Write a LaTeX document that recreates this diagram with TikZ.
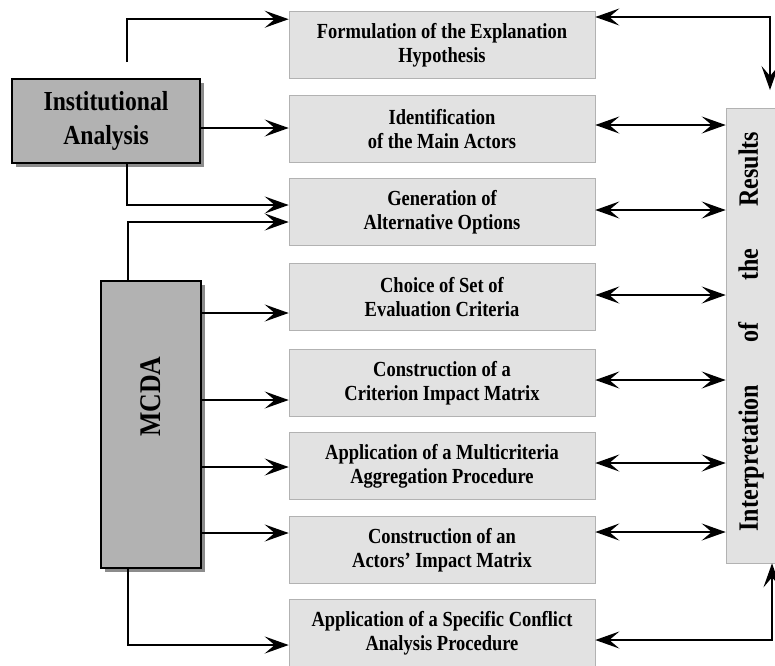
\documentclass[tikz,border=0pt]{standalone}
\usepackage{fontspec}
\setmainfont{Liberation Serif}
\newfontfamily\narrowfont[FakeStretch=0.86]{Liberation Serif}
\usepackage{graphicx}
\usepackage{tikz}
\usetikzlibrary{arrows.meta,shadows}
\newcommand{\unitsize}{1pt}
\definecolor{stepfill}{RGB}{226,226,226}
\definecolor{mainfill}{RGB}{178,178,178}

\begin{document}
\begin{tikzpicture}[x=\unitsize,y=-\unitsize,
	>={Stealth[length=24pt,width=17pt,inset=10pt]},
	stepbox/.style={draw=gray!60, line width=0.6pt, fill=stepfill, minimum width=306pt, minimum height=67pt, inner sep=0pt, align=center, font=\narrowfont\fontsize{21.5}{24}\selectfont\bfseries},
	mainbox/.style={draw=black, line width=1.4pt, fill=mainfill, inner sep=0pt, align=center, general shadow={fill=black!45, shadow xshift=4pt, shadow yshift=-4pt}},
	link/.style={line width=1.6pt}]
	\useasboundingbox (0,0) rectangle (775,665);

	\node[stepbox] (formulation) at (442,45) {Formulation of the Explanation\\Hypothesis};
	\node[stepbox] (actors) at (442,129) {Identification\\of the Main Actors};
	\node[stepbox] (options) at (442,212) {Generation of\\Alternative Options};
	\node[stepbox] (criteria) at (442,297) {Choice of Set of\\Evaluation Criteria};
	\node[stepbox] (critmatrix) at (442,383) {Construction of a\\Criterion Impact Matrix};
	\node[stepbox] (aggregation) at (442,466) {Application of a Multicriteria\\Aggregation Procedure};
	\node[stepbox] (actmatrix) at (442,550) {Construction of an\\Actors’ Impact Matrix};
	\node[stepbox] (conflict) at (442,633) {Application of a Specific Conflict\\Analysis Procedure};

	\node[mainbox, minimum width=188pt, minimum height=84pt, font=\narrowfont\fontsize{27.5}{34}\selectfont\bfseries] (inst) at (106,121) {Institutional\\Analysis};
	\node[mainbox, minimum width=100pt, minimum height=287pt, font=\narrowfont\fontsize{30}{30}\selectfont\bfseries] (mcda) at (151,424.5) {\rotatebox{90}{\hspace{56pt}MCDA}};
	\node[draw=gray!60, line width=0.6pt, fill=stepfill, minimum width=50pt, minimum height=455pt, inner sep=0pt, font=\narrowfont\fontsize{28}{30}\selectfont\bfseries] (interp) at (751,335.5) {\rotatebox{90}{\hspace{8pt}Interpretation\hspace{1.5em}of\hspace{1.5em}the\hspace{1.5em}Results}};

	\coordinate (insttop) at (127,62);
	\coordinate (interptop) at (770,90);

	\draw[link,->] (insttop) |- ([yshift=-8pt]formulation.north west);
	\draw[link,->] (inst.east |- 0,128) -- (actors.west |- 0,128);
	\draw[link,->] (inst.south -| 127,0) |- (options.west |- 0,205);
	\draw[link,->] (mcda.north -| 128,0) |- (options.west |- 0,222);
	\draw[link,->] (mcda.east |- 0,313) -- (criteria.west |- 0,313);
	\draw[link,->] (mcda.east |- 0,400) -- (critmatrix.west |- 0,400);
	\draw[link,->] (mcda.east |- 0,467) -- (aggregation.west |- 0,467);
	\draw[link,->] (mcda.east |- 0,533) -- (actmatrix.west |- 0,533);
	\draw[link,->] (mcda.south -| 128,0) |- (conflict.west |- 0,645);

	\draw[link,<->] (formulation.east |- 0,17) -| (interptop);
	\draw[link,<->] (actors.east |- 0,125) -- (interp.west |- 0,125);
	\draw[link,<->] (options.east |- 0,210) -- (interp.west |- 0,210);
	\draw[link,<->] (criteria.east |- 0,295) -- (interp.west |- 0,295);
	\draw[link,<->] (critmatrix.east |- 0,380) -- (interp.west |- 0,380);
	\draw[link,<->] (aggregation.east |- 0,463) -- (interp.west |- 0,463);
	\draw[link,<->] (actmatrix.east |- 0,532) -- (interp.west |- 0,532);
	\draw[link,<->] (conflict.east |- 0,640) -| (interp.south -| 772,0);
\end{tikzpicture}
\end{document}
